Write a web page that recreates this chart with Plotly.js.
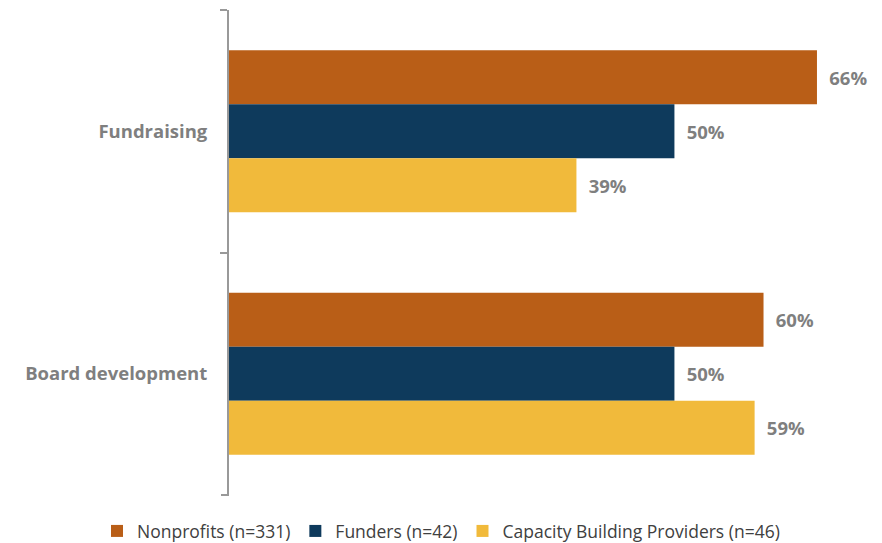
<!DOCTYPE html>
<html>
<head>
<meta charset="utf-8">
<script src="https://cdn.plot.ly/plotly-3.0.1.min.js"></script>
<style>html,body{margin:0;padding:0;background:#fff;}#chart{width:882px;height:543px;}</style>
</head>
<body>
<div id="chart"></div>
<script>
const categories = ["Fundraising", "Board development"];
const seriesNames = ["Nonprofits (n=331)", "Funders (n=42)", "Capacity Building Providers (n=46)"];
const nonprofits = [66, 60];
const funders = [50, 50];
const capacity = [39, 59];
const colors = ["#B95E17", "#0E3A5C", "#F1BA3B"];

const seriesValues = [nonprofits, funders, capacity];
const labelFont = {family: "Open Sans, Noto Sans, sans-serif", size: 18.5, color: "#7F7F7F", weight: "bold"};

const traces = seriesValues.map((vals, i) => ({
  type: "bar",
  orientation: "h",
  name: seriesNames[i],
  y: categories,
  x: vals,
  marker: {color: colors[i], line: {width: 0}},
  text: vals.map(v => "\u2002" + v + "%"),
  textposition: "outside",
  textfont: labelFont,
  cliponaxis: false,
  hoverinfo: "skip"
}));

const layout = {
  width: 882, height: 543,
  margin: {l: 0, r: 0, t: 10, b: 48},
  paper_bgcolor: "#fff", plot_bgcolor: "#fff",
  barmode: "group",
  bargap: 0.332,
  bargroupgap: 0,
  showlegend: true,
  legend: {
    orientation: "h",
    xref: "container", yref: "container",
    x: 0.5, xanchor: "center",
    y: 0.022, yanchor: "middle",
    font: {family: "Open Sans, Noto Sans, sans-serif", size: 17.5, color: "#404040"},
    traceorder: "normal",
    itemwidth: 30
  },
  xaxis: {
    domain: [229 / 882, 1],
    range: [0, 73.3],
    showgrid: false, zeroline: false, showline: false,
    showticklabels: false, ticks: ""
  },
  yaxis: {
    type: "category",
    autorange: "reversed",
    automargin: false,
    showline: true, linecolor: "#999999", linewidth: 2,
    ticks: "outside", ticklen: 7, tickwidth: 2, tickcolor: "#999999",
    tickson: "boundaries",
    showgrid: false, zeroline: false,
    tickfont: labelFont,
    ticklabelstandoff: 16
  },
  shapes: [{
    type: "line", layer: "above",
    xref: "x domain", yref: "y domain",
    xsizemode: "pixel", xanchor: 0,
    x0: -8, x1: 0, y0: 0, y1: 0,
    line: {color: "#999999", width: 2}
  }]
};

Plotly.newPlot("chart", traces, layout, {displayModeBar: false, staticPlot: true});
</script>
</body>
</html>
